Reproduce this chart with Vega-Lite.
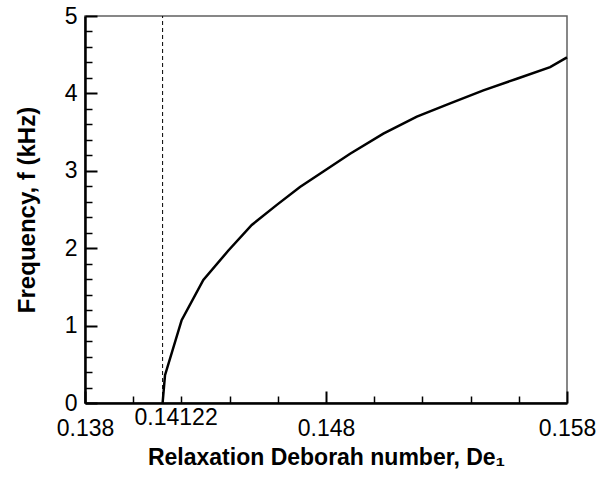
{
  "$schema": "https://vega.github.io/schema/vega-lite/v6.json",
  "autosize": "none",
  "width": 482,
  "height": 387,
  "padding": {"left": 85, "top": 16, "right": 35, "bottom": 76},
  "background": "white",
  "config": {
    "view": {"stroke": "#606060", "strokeWidth": 1.5},
    "font": "Liberation Sans",
    "axis": {
      "grid": false,
      "labelFont": "Liberation Sans",
      "titleFont": "Liberation Sans",
      "labelColor": "black",
      "titleColor": "black",
      "tickColor": "black",
      "domainColor": "black"
    }
  },
  "datasets": {
    "curve": [
      {"de": 0.14122, "f": 0},
      {"de": 0.14132, "f": 0.36},
      {"de": 0.14201, "f": 1.07},
      {"de": 0.14291, "f": 1.59},
      {"de": 0.14395, "f": 1.97},
      {"de": 0.14492, "f": 2.30},
      {"de": 0.14596, "f": 2.56},
      {"de": 0.14692, "f": 2.79},
      {"de": 0.14789, "f": 2.99},
      {"de": 0.14900, "f": 3.22},
      {"de": 0.15038, "f": 3.48},
      {"de": 0.15177, "f": 3.70},
      {"de": 0.15315, "f": 3.87},
      {"de": 0.15453, "f": 4.04},
      {"de": 0.15592, "f": 4.19},
      {"de": 0.15730, "f": 4.34},
      {"de": 0.158, "f": 4.465}
    ],
    "marker": [{"de": 0.14122, "y0": 0, "y1": 5}]
  },
  "layer": [
    {
      "data": {"name": "marker"},
      "mark": {"type": "rule", "color": "black", "strokeWidth": 1, "strokeDash": [4, 3]},
      "encoding": {
        "x": {
          "field": "de", "type": "quantitative",
          "scale": {"domain": [0.138, 0.158], "nice": false, "zero": false},
          "axis": {"orient": "bottom", "values": [0.14, 0.142, 0.144, 0.146, 0.15, 0.152, 0.154, 0.156], "tickSize": -7, "tickWidth": 1.5, "labels": false, "domain": false, "title": null}
        },
        "y": {
          "field": "y0", "type": "quantitative",
          "scale": {"domain": [0, 5], "nice": false},
          "axis": {"orient": "left", "values": [0.2, 0.4, 0.6, 0.8, 1.2, 1.4, 1.6, 1.8, 2.2, 2.4, 2.6, 2.8, 3.2, 3.4, 3.6, 3.8, 4.2, 4.4, 4.6, 4.8], "tickSize": -7, "tickWidth": 1.5, "labels": false, "domain": false, "title": null}
        },
        "y2": {"field": "y1"}
      }
    },
    {
      "data": {"name": "marker"},
      "mark": {"type": "rule", "color": "black", "strokeOpacity": 0},
      "encoding": {
        "x": {
          "field": "de", "type": "quantitative",
          "axis": {"orient": "bottom", "values": [0.14122], "format": ".5f", "ticks": false, "domain": false, "labelPadding": 3, "labelOffset": 13, "labelFontSize": 23, "title": null}
        }
      }
    },
    {
      "data": {"name": "curve"},
      "mark": {"type": "line", "color": "black", "strokeWidth": 2.5},
      "encoding": {
        "x": {
          "field": "de", "type": "quantitative",
          "axis": {
            "orient": "bottom",
            "values": [0.138, 0.148, 0.158], "format": ".3f",
            "tickSize": -12, "tickWidth": 2, "domainWidth": 2.5,
            "labelPadding": 26, "labelFontSize": 23, "labelFlush": false,
            "title": "Relaxation Deborah number, De₁", "titleFontSize": 23, "titleFontWeight": "bold", "titlePadding": 6
          }
        },
        "y": {
          "field": "f", "type": "quantitative",
          "axis": {
            "orient": "left",
            "values": [0, 1, 2, 3, 4, 5], "format": "d",
            "tickSize": -12, "tickWidth": 2, "domainWidth": 2.5,
            "labelPadding": 20, "labelFontSize": 23, "labelFlush": false,
            "title": "Frequency, f (kHz)", "titleFontSize": 24, "titleFontWeight": "bold", "titlePadding": 25
          }
        }
      }
    }
  ],
  "resolve": {"axis": {"x": "independent", "y": "independent"}}
}
